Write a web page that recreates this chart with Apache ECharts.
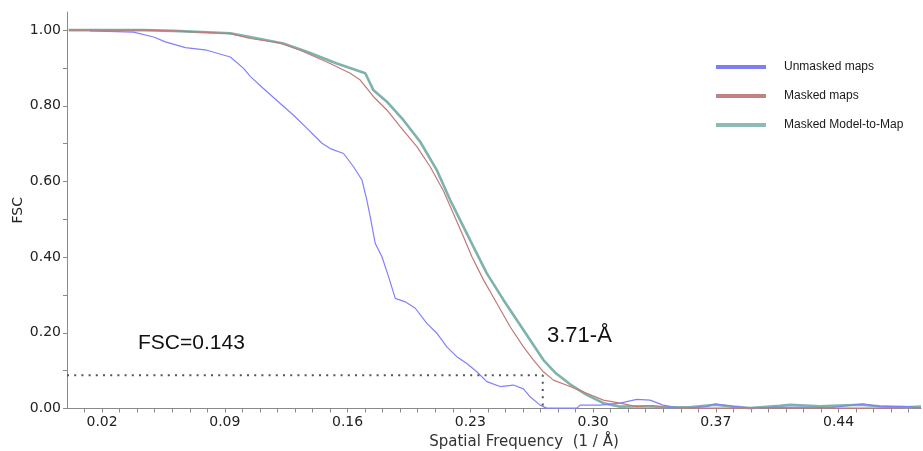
<!DOCTYPE html>
<html>
<head>
<meta charset="utf-8">
<script src="https://cdn.jsdelivr.net/npm/echarts@6/dist/echarts.min.js"></script>
<style>html,body{margin:0;padding:0;background:#fff}#c{width:923px;height:451px}</style>
</head>
<body>
<div id="c"></div>
<script>
// ---- data (spatial frequency [1/Å], FSC) ----
const seriesNames = ['Unmasked maps', 'Masked maps', 'Masked Model-to-Map'];
const unmasked = [[0.013,0.998],[0.038,0.995],[0.0494,0.982],[0.0561,0.969],[0.0675,0.954],[0.0798,0.947],[0.0931,0.929],[0.1007,0.899],[0.1045,0.878],[0.1112,0.849],[0.1216,0.806],[0.1292,0.775],[0.1359,0.745],[0.1454,0.701],[0.1501,0.687],[0.1577,0.674],[0.1634,0.639],[0.1682,0.604],[0.1710,0.551],[0.1729,0.507],[0.1758,0.436],[0.1796,0.401],[0.1834,0.348],[0.1872,0.291],[0.1929,0.282],[0.1986,0.265],[0.2052,0.225],[0.2109,0.199],[0.2166,0.163],[0.2223,0.137],[0.2280,0.119],[0.2337,0.097],[0.2394,0.071],[0.2470,0.058],[0.2546,0.062],[0.2603,0.052],[0.2641,0.031],[0.2698,0.009],[0.2736,0.001],[0.2907,0.001],[0.2926,0.009],[0.3040,0.009],[0.3154,0.014],[0.3249,0.024],[0.3325,0.022],[0.3399,0.009],[0.3496,0.001],[0.3648,0.005],[0.3695,0.012],[0.3798,0.006],[0.3895,0.001],[0.4009,0.003],[0.418,0.004],[0.435,0.002],[0.454,0.012],[0.4636,0.005],[0.4778,0.006],[0.487,0.002]];
const masked = [[0.001,1.0],[0.0435,1.0],[0.0606,0.998],[0.0931,0.991],[0.1045,0.978],[0.1216,0.966],[0.133,0.947],[0.1501,0.912],[0.1615,0.886],[0.1672,0.868],[0.171,0.846],[0.1748,0.824],[0.1824,0.789],[0.19,0.745],[0.1995,0.692],[0.2071,0.639],[0.2147,0.575],[0.2204,0.515],[0.2261,0.454],[0.2309,0.401],[0.2375,0.340],[0.2451,0.278],[0.2527,0.216],[0.2603,0.163],[0.2660,0.128],[0.2717,0.097],[0.2774,0.075],[0.2869,0.058],[0.2964,0.040],[0.3059,0.022],[0.3154,0.014],[0.3249,0.005],[0.3335,0.008],[0.3399,0.004],[0.3496,0.001],[0.38,0.001],[0.41,0.002],[0.45,0.001],[0.487,0.002]];
const modelToMap = [[0.001,1.0],[0.0435,1.0],[0.0606,0.998],[0.0931,0.992],[0.1045,0.982],[0.1233,0.965],[0.1368,0.943],[0.1539,0.912],[0.1701,0.886],[0.1748,0.841],[0.1824,0.811],[0.1919,0.762],[0.2014,0.705],[0.2109,0.630],[0.2185,0.551],[0.2242,0.498],[0.2318,0.427],[0.2394,0.357],[0.2489,0.287],[0.2565,0.234],[0.2641,0.181],[0.2717,0.128],[0.2788,0.093],[0.2869,0.064],[0.2964,0.036],[0.3059,0.014],[0.3154,0.005],[0.33,0.006],[0.34,0.004],[0.355,0.003],[0.3695,0.010],[0.3798,0.005],[0.3895,0.001],[0.4066,0.007],[0.4123,0.010],[0.4294,0.006],[0.4522,0.010],[0.4636,0.006],[0.4778,0.003],[0.487,0.005]];
const cutoffX = 0.2713;   // resolution cut-off position
const cutoffY = 0.088;    // dotted threshold line level
const cutoffLine = [[0, cutoffY], [cutoffX, cutoffY], [cutoffX, 0]];
const xLabelValues = [0.02, 0.09, 0.16, 0.23, 0.30, 0.37, 0.44];
const yLabelValues = [0.0, 0.2, 0.4, 0.6, 0.8, 1.0];
const xTickValues = []; for (let i = 1; i <= 48; i++) xTickValues.push(i / 100);
const yTickValues = []; for (let i = 0; i <= 10; i++) yTickValues.push(i / 10);
const annotationFSC = 'FSC=0.143';
const annotationRes = '3.71-Å';

const chart = echarts.init(document.getElementById('c'), null, {renderer: 'canvas'});
const axisGray = '#8a8a8a';
chart.setOption({
  animation: false,
  backgroundColor: '#ffffff',
  grid: {left: 67, right: 2, top: 12, bottom: 42.5, containLabel: false, outerBoundsMode: 'none'},
  legend: {
    orient: 'vertical', left: 711, top: 56, itemGap: 17,
    itemWidth: 50, itemHeight: 4, icon: 'rect',
    textStyle: {fontFamily: 'Liberation Sans', fontSize: 12, color: '#1a1a1a', padding: [0,0,0,13]},
    data: seriesNames
  },
  xAxis: {
    type: 'value', min: 0, max: 0.487,
    name: 'Spatial Frequency  (1 / Å)', nameLocation: 'middle', nameGap: 26, nameMoveOverlap: false,
    nameTextStyle: {fontFamily: 'DejaVu Sans', fontSize: 15, color: '#333', padding: [0,0,0,60]},
    axisLine: {lineStyle: {color: axisGray, width: 1}},
    axisTick: {show: true, length: 4, lineStyle: {color: axisGray}, customValues: xTickValues},
    axisLabel: {customValues: xLabelValues, formatter: v => v.toFixed(2), margin: 7,
      fontFamily: 'DejaVu Sans', fontSize: 14, color: '#222'},
    splitLine: {show: false}
  },
  yAxis: {
    type: 'value', min: 0, max: 1.048,
    name: 'FSC', nameLocation: 'middle', nameGap: 42, nameMoveOverlap: false,
    nameTextStyle: {fontFamily: 'DejaVu Sans', fontSize: 14, color: '#222'},
    axisLine: {show: true, lineStyle: {color: axisGray, width: 1}},
    axisTick: {show: true, length: 4, lineStyle: {color: axisGray}, customValues: yTickValues},
    axisLabel: {customValues: yLabelValues, formatter: v => v.toFixed(2), margin: 6,
      fontFamily: 'DejaVu Sans', fontSize: 14, color: '#222'},
    splitLine: {show: false}
  },
  series: [
    {name: seriesNames[0], type: 'line', data: unmasked, symbol: 'none', color: '#7f7ff5',
      lineStyle: {width: 1.2, color: '#8080ff'}, z: 3},
    {name: seriesNames[1], type: 'line', data: masked, symbol: 'none', color: '#c28282',
      lineStyle: {width: 1.2, color: '#c47878'}, z: 3},
    {name: seriesNames[2], type: 'line', data: modelToMap, symbol: 'none', color: '#8dbab3',
      lineStyle: {width: 2.6, color: '#7db3ab'}, z: 2},
    {name: 'cutoff', type: 'line', data: cutoffLine, symbol: 'none', silent: true,
      lineStyle: {width: 2, color: '#555', type: [2, 5.2]}, z: 4}
  ],
  graphic: [
    {type: 'text', left: 138, top: 333, style: {text: annotationFSC, font: '21px "Liberation Sans"', fill: '#111'}},
    {type: 'text', left: 547, top: 325, style: {text: annotationRes, font: '22px "Liberation Sans"', fill: '#111'}}
  ]
});
</script>
</body>
</html>
